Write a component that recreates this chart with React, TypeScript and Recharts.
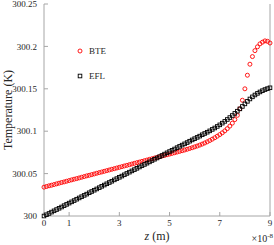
import { ScatterChart, Scatter, XAxis, YAxis, Legend } from "recharts"

// z in units of 1e-8 m
const zValues = [
  0, 0.1, 0.2, 0.3, 0.4, 0.5, 0.6, 0.7, 0.8, 0.9,
  1, 1.1, 1.2, 1.3, 1.4, 1.5, 1.6, 1.7, 1.8, 1.9,
  2, 2.1, 2.2, 2.3, 2.4, 2.5, 2.6, 2.7, 2.8, 2.9,
  3, 3.1, 3.2, 3.3, 3.4, 3.5, 3.6, 3.7, 3.8, 3.9,
  4, 4.1, 4.2, 4.3, 4.4, 4.5, 4.6, 4.7, 4.8, 4.9,
  5, 5.1, 5.2, 5.3, 5.4, 5.5, 5.6, 5.7, 5.8, 5.9,
  6, 6.1, 6.2, 6.3, 6.4, 6.5, 6.6, 6.7, 6.8, 6.9,
  7, 7.1, 7.2, 7.3, 7.4, 7.5, 7.6, 7.7, 7.8, 7.9,
  8, 8.1, 8.2, 8.3, 8.4, 8.5, 8.6, 8.7, 8.8, 8.9,
  9,
]

const bteValues = [
  300.034, 300.0348, 300.0356, 300.0363, 300.0371, 300.0379, 300.0387, 300.0395, 300.0402, 300.041,
  300.0418, 300.0426, 300.0434, 300.0441, 300.0449, 300.0457, 300.0465, 300.0473, 300.048, 300.0488,
  300.0496, 300.0504, 300.0512, 300.0519, 300.0527, 300.0535, 300.0543, 300.0551, 300.0558, 300.0566,
  300.0574, 300.0582, 300.059, 300.0597, 300.0605, 300.0613, 300.0621, 300.0629, 300.0636, 300.0644,
  300.0652, 300.066, 300.0668, 300.0675, 300.0683, 300.0691, 300.0699, 300.0707, 300.0714, 300.0722,
  300.073, 300.0738, 300.0746, 300.0754, 300.0762, 300.077, 300.0778, 300.0787, 300.0796, 300.0805,
  300.0815, 300.0825, 300.0836, 300.0848, 300.0861, 300.0875, 300.089, 300.0906, 300.0923, 300.0941,
  300.096, 300.0981, 300.1004, 300.103, 300.106, 300.1095, 300.1137, 300.1187, 300.1265, 300.1365,
  300.15, 300.166, 300.179, 300.188, 300.195, 300.1995, 300.203, 300.205, 300.2065, 300.206,
  300.204,
]

const eflValues = [
  300, 300.0015, 300.003, 300.0046, 300.0061, 300.0076, 300.0091, 300.0106, 300.0122, 300.0137,
  300.0152, 300.0167, 300.0182, 300.0198, 300.0213, 300.0228, 300.0243, 300.0258, 300.0274, 300.0289,
  300.0304, 300.0319, 300.0334, 300.035, 300.0365, 300.038, 300.0395, 300.041, 300.0426, 300.0441,
  300.0456, 300.0471, 300.0486, 300.0502, 300.0517, 300.0532, 300.0547, 300.0562, 300.0578, 300.0593,
  300.0608, 300.0623, 300.0638, 300.0654, 300.0669, 300.0684, 300.0699, 300.0714, 300.073, 300.0745,
  300.076, 300.0775, 300.079, 300.0806, 300.0821, 300.0836, 300.0851, 300.0866, 300.0882, 300.0897,
  300.0912, 300.0927, 300.0942, 300.0958, 300.0973, 300.0988, 300.1004, 300.1021, 300.1038, 300.1056,
  300.1075, 300.1095, 300.1116, 300.1138, 300.1161, 300.1185, 300.121, 300.1236, 300.1263, 300.1292,
  300.1322, 300.1352, 300.138, 300.1405, 300.1427, 300.1446, 300.1463, 300.1478, 300.1491, 300.1502,
  300.1512,
]

const xTicks = [0, 1, 3, 5, 7, 9]
const yTicks = [300, 300.05, 300.1, 300.15, 300.2, 300.25]

const bteData = zValues.map((z, i) => ({ z, t: bteValues[i] }))
const eflData = zValues.map((z, i) => ({ z, t: eflValues[i] }))

const SERIF = "'Liberation Serif', 'DejaVu Serif', serif"
const AXIS = "#a6a6a6"
const TEXT = "#262626"

function OpenCircle(props: any) {
  const { cx, cy } = props
  return <circle cx={cx} cy={cy} r={2} fill="none" stroke="#ff0000" strokeWidth={0.9} />
}

function OpenSquare(props: any) {
  const { cx, cy } = props
  return <rect x={cx - 1.8} y={cy - 1.8} width={3.6} height={3.6} fill="none" stroke="#000" strokeWidth={0.9} />
}

function ZLabel(props: any) {
  const { viewBox } = props
  const cx = viewBox.x + viewBox.width / 2
  return (
    <g>
      <text x={cx} y={viewBox.y + 24} textAnchor="middle" fontSize={12} fontFamily={SERIF} fill={TEXT}>
        <tspan fontStyle="italic">z</tspan> (m)
      </text>
      <text x={viewBox.x + viewBox.width + 3} y={viewBox.y + 26} textAnchor="end" fontSize={10} fontFamily={SERIF} fill={TEXT}>
        ×10<tspan dy={-4} fontSize={7}>-8</tspan>
      </text>
    </g>
  )
}

function LegendBox() {
  const rows = [
    { name: "BTE", shape: <circle cx={5} cy={5} r={2} fill="none" stroke="#ff0000" strokeWidth={0.9} /> },
    { name: "EFL", shape: <rect x={3.2} y={3.2} width={3.6} height={3.6} fill="none" stroke="#000" strokeWidth={0.9} /> },
  ]
  return (
    <div style={{ fontFamily: SERIF, fontSize: 9, color: TEXT }}>
      {rows.map((r) => (
        <div key={r.name} style={{ height: 25, display: "flex", alignItems: "center" }}>
          <svg width={10} height={10}>{r.shape}</svg>
          <span style={{ marginLeft: 4 }}>{r.name}</span>
        </div>
      ))}
    </div>
  )
}

const fmt = (v: number) => String(Number(v.toFixed(2)))

export default function App() {
  return (
    <div style={{ position: "absolute", left: 0, top: 0 }}>
      <ScatterChart width={274} height={245} margin={{ top: 4, right: 0, left: 0, bottom: 0 }}>
        <XAxis
          dataKey="z"
          type="number"
          domain={[0, 9]}
          ticks={xTicks}
          interval={0}
          height={29}
          stroke={AXIS}
          tickSize={-4}
          tickMargin={8}
          tick={{ fill: TEXT, fontSize: 9, fontFamily: SERIF }}
          label={{ content: <ZLabel /> }}
        />
        <XAxis
          xAxisId="top"
          orientation="top"
          type="number"
          domain={[0, 9]}
          ticks={xTicks}
          interval={0}
          height={0}
          stroke={AXIS}
          tickSize={-4}
          tick={false}
        />
        <YAxis
          dataKey="t"
          type="number"
          domain={[300, 300.25]}
          ticks={yTicks}
          interval={0}
          width={44}
          stroke={AXIS}
          tickSize={-4}
          tickMargin={11}
          tickFormatter={fmt}
          tick={{ fill: TEXT, fontSize: 9, fontFamily: SERIF }}
          label={{
            value: "Temperature (K)",
            angle: -90,
            position: "insideLeft",
            offset: 8,
            textAnchor: "middle",
            style: { fill: TEXT, fontSize: 12, fontFamily: SERIF },
          }}
        />
        <YAxis
          yAxisId="right"
          orientation="right"
          type="number"
          domain={[300, 300.25]}
          ticks={yTicks}
          interval={0}
          width={4}
          stroke={AXIS}
          tickSize={-4}
          tick={false}
        />
        <Legend
          layout="vertical"
          align="center"
          verticalAlign="middle"
          content={<LegendBox />}
          wrapperStyle={{ left: 75, top: 38, width: 40 }}
        />
        <Scatter name="BTE" data={bteData} shape={<OpenCircle />} isAnimationActive={false} />
        <Scatter name="EFL" data={eflData} shape={<OpenSquare />} isAnimationActive={false} />
      </ScatterChart>
    </div>
  )
}
